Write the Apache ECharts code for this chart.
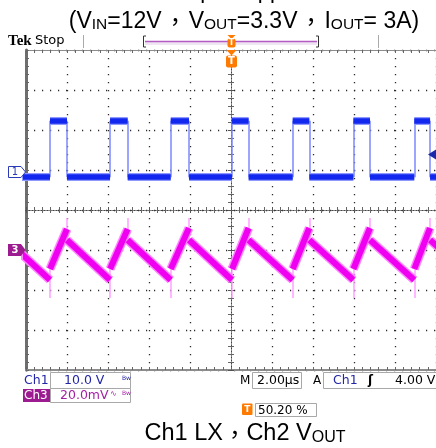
<!DOCTYPE html>
<html><head><meta charset="utf-8">
<script src="https://cdn.jsdelivr.net/npm/echarts@6/dist/echarts.min.js"></script>
<style>html,body{margin:0;padding:0;background:#fff}#c{width:436px;height:448px}</style>
</head><body><div id="c"></div>
<script>
// ---- data (time in µs, 2 µs/div; Ch1 in V, 10 V/div; Ch3 in mV, 20 mV/div) ----
const timeRange = [-10, 10];
const riseTimes = [-11.79, -8.83, -5.90, -2.94, 0.05, 3.01, 5.97, 8.94, 11.90];
const fallTimes = [-10.95, -8.00, -5.04, -2.05, 0.86, 3.82, 6.78, 9.71, 12.66];
const ch1HighV  = [12.8, 12.8, 12.8, 12.8, 12.8, 12.8, 12.8, 12.8, 12.8];
const ch1LowV   = [-1.3, -1.3, -1.3, -1.3, -1.3, -1.3, -1.3, -1.3, -1.3];
const ch3ValleyAtRise = [-15, -15, -15, -15, -15, -15, -15, -15, -15];
const ch3AfterRise    = [-9.5, -9.5, -9.5, -9.5, -9.5, -9.5, -9.5, -9.5, -9.5];
const ch3PeakAtFall   = [10.5, 10.5, 10.5, 11, 11, 11, 11, 11, 11];
const ch3AfterFall    = [5, 5, 5, 5, 5, 5, 5, 5, 5];
const ch3SpikeLow     = [-24, -24, -24, -24, -24, -24, -24, -24, -24];
const ch3SpikeHigh    = [16, 16, 16, 16, 16, 16, 16, 16, 16];
const ch1Range = [-49.5, 30.5];
const ch3Range = [-60, 100];

// ---- build segments ----
const ch1Levels = [], ch1Edges = [], ch3Ramps = [], ch3Spikes = [];
for (let i = 0; i < riseTimes.length; i++) {
  ch1Levels.push({coords: [[riseTimes[i], ch1HighV[i]], [fallTimes[i], ch1HighV[i]]]});
  if (i + 1 < riseTimes.length) ch1Levels.push({coords: [[fallTimes[i], ch1LowV[i]], [riseTimes[i + 1], ch1LowV[i]]]});
  ch1Edges.push({coords: [[riseTimes[i], ch1LowV[i]], [riseTimes[i], ch1HighV[i]]]});
  ch1Edges.push({coords: [[fallTimes[i], ch1HighV[i]], [fallTimes[i], ch1LowV[i]]]});
  ch3Ramps.push({coords: [[riseTimes[i], ch3AfterRise[i]], [fallTimes[i], ch3PeakAtFall[i]]]});
  if (i + 1 < riseTimes.length) ch3Ramps.push({coords: [[fallTimes[i], ch3AfterFall[i]], [riseTimes[i + 1], ch3ValleyAtRise[i + 1]]]});
  ch3Spikes.push({coords: [[riseTimes[i], ch3SpikeLow[i]], [riseTimes[i], ch3AfterRise[i]]]});
  ch3Spikes.push({coords: [[fallTimes[i], ch3SpikeHigh[i]], [fallTimes[i], ch3AfterFall[i]]]});
}

const GRID = {left: 26, top: 50, width: 410, height: 320};
const dotStyle = {color: '#2a2a2a', width: 1.3, type: [1.2, 6.8]};
function divX(extra) {
  return Object.assign({type: 'value', min: timeRange[0], max: timeRange[1], interval: 2,
    axisLabel: {show: false}, splitLine: {show: false},
    axisLine: {onZero: false, lineStyle: {color: '#8c8c8c', width: 1}},
    axisTick: {show: true, inside: true, length: 3, lineStyle: {color: '#666'}},
    minorTick: {show: true, splitNumber: 5, length: 3, lineStyle: {color: '#666'}}}, extra);
}
function divY(extra) {
  return Object.assign({type: 'value', min: -4, max: 4, interval: 1,
    axisLabel: {show: false}, splitLine: {show: false},
    axisLine: {onZero: false, lineStyle: {color: '#8c8c8c', width: 1}},
    axisTick: {show: true, inside: true, length: 3, lineStyle: {color: '#666'}},
    minorTick: {show: true, splitNumber: 5, length: 3, lineStyle: {color: '#666'}}}, extra);
}
const centerLine = {onZero: false, lineStyle: {color: '#444', width: 1, type: [1, 2]}};

const sans = "'Liberation Sans', Arial, sans-serif";
const cjk = "'Noto Sans CJK TC', 'Noto Sans CJK SC', sans-serif";
const scope = "'DejaVu Sans', sans-serif";
const orange = '#ff7a00';

const graphic = [
  // clipped upper heading line
  {type: 'text', x: 232, y: -8, z: 50, style: {text: 'Output Ripple', font: '22px ' + sans, fill: '#000', align: 'center', verticalAlign: 'middle'}},
  // title
  {type: 'text', x: 244, y: 5, z: 50, style: {
    text: '{n|(V}{s|IN}{n|=12V}{c|，}{n|V}{s|OUT}{n|=3.3V}{c|，}{n|I}{s|OUT}{n|= 3A)}', align: 'center', verticalAlign: 'top',
    rich: {n: {fontSize: 23, fontFamily: sans, lineHeight: 28, verticalAlign: 'bottom', fill: '#000'},
           c: {fontSize: 23, fontFamily: cjk, lineHeight: 28, verticalAlign: 'bottom', fill: '#000', padding: [0, 2, 0, 2]},
           s: {fontSize: 15.5, fontFamily: sans, lineHeight: 22.5, verticalAlign: 'bottom', fill: '#000'}}}},
  // caption
  {type: 'text', x: 245, y: 418, z: 50, style: {
    text: '{n|Ch1 LX}{c|，}{n|Ch2 V}{s|OUT}', align: 'center', verticalAlign: 'top',
    rich: {n: {fontSize: 23.5, fontFamily: sans, lineHeight: 28, verticalAlign: 'bottom', fill: '#000'},
           c: {fontSize: 23.5, fontFamily: cjk, lineHeight: 28, verticalAlign: 'bottom', fill: '#000'},
           s: {fontSize: 16, fontFamily: sans, lineHeight: 21, verticalAlign: 'bottom', fill: '#000'}}}},
  // Tek Stop
  {type: 'text', x: 8, y: 41, z: 50, style: {text: 'Tek', font: "bold 15px 'Liberation Serif', serif", fill: '#000', verticalAlign: 'middle'}},
  {type: 'text', x: 35, y: 41, z: 50, style: {text: 'Stop', font: '13px ' + scope, fill: '#000', verticalAlign: 'middle'}},
  {type: 'line', z: 50, shape: {x1: 83.5, y1: 35, x2: 83.5, y2: 48}, style: {stroke: '#aaa', lineWidth: 1}},
  {type: 'line', z: 50, shape: {x1: 378.5, y1: 35, x2: 378.5, y2: 48}, style: {stroke: '#aaa', lineWidth: 1}},
  // record bracket
  {type: 'rect', z: 50, shape: {x: 145, y: 41, width: 172, height: 4}, style: {fill: '#efe6f2'}},
  {type: 'line', z: 51, shape: {x1: 145, y1: 41.5, x2: 317, y2: 41.5}, style: {stroke: '#b25cc4', lineWidth: 1.5}},
  {type: 'polyline', z: 51, shape: {points: [[146, 36], [143.5, 36], [143.5, 47], [146, 47]]}, style: {stroke: '#333', lineWidth: 1, fill: null}},
  {type: 'polyline', z: 51, shape: {points: [[316, 36], [318.5, 36], [318.5, 47], [316, 47]]}, style: {stroke: '#333', lineWidth: 1, fill: null}},
  // trigger position marker (top)
  {type: 'polygon', z: 52, shape: {points: [[227.5, 35], [235.5, 35], [231.5, 39]]}, style: {fill: orange}},
  {type: 'rect', z: 52, shape: {x: 227.5, y: 38.5, width: 8, height: 9, r: 2}, style: {fill: orange}},
  {type: 'text', z: 53, x: 231.5, y: 43, style: {text: 'T', font: 'bold 8px ' + scope, fill: '#fff', align: 'center', verticalAlign: 'middle'}},
  {type: 'polygon', z: 52, shape: {points: [[226.5, 50], [236.5, 50], [231.5, 55.5]]}, style: {fill: orange}},
  {type: 'rect', z: 52, shape: {x: 226, y: 55.5, width: 11, height: 12, r: 2}, style: {fill: orange}},
  {type: 'text', z: 53, x: 231.5, y: 61.5, style: {text: 'T', font: 'bold 10px ' + scope, fill: '#fff', align: 'center', verticalAlign: 'middle'}},
  // channel ground markers
  {type: 'polygon', z: 52, shape: {points: [[8.5, 166.5], [21, 166.5], [25.5, 172], [21, 177.5], [8.5, 177.5]]}, style: {fill: '#fff', stroke: '#2b3bb8', lineWidth: 1}},
  {type: 'text', z: 53, x: 15, y: 172.5, style: {text: '1', font: '10px ' + scope, fill: '#2b3bb8', align: 'center', verticalAlign: 'middle'}},
  {type: 'polygon', z: 52, shape: {points: [[8, 244], [21, 244], [25.5, 250], [21, 256], [8, 256]]}, style: {fill: '#9c1b90'}},
  {type: 'text', z: 53, x: 15, y: 250.5, style: {text: '3', font: 'bold 10px ' + scope, fill: '#fff', align: 'center', verticalAlign: 'middle'}},
  // trigger level arrow (right)
  {type: 'polygon', z: 52, shape: {points: [[428, 154.5], [436, 149.5], [436, 159.5]]}, style: {fill: '#1b2aa8'}},
  // status row 1
  {type: 'text', z: 50, x: 24, y: 381, style: {text: 'Ch1', font: '12.5px ' + scope, fill: '#2326a6', verticalAlign: 'middle'}},
  {type: 'rect', z: 50, shape: {x: 50.5, y: 372.5, width: 80, height: 16}, style: {fill: '#fff', stroke: '#a8a8a8', lineWidth: 1}},
  {type: 'text', z: 51, x: 64, y: 381, style: {text: '10.0 V', font: '12.5px ' + scope, fill: '#2326a6', verticalAlign: 'middle'}},
  {type: 'text', z: 51, x: 122, y: 378, style: {text: 'Bw', font: '6px ' + scope, fill: '#2326a6', verticalAlign: 'middle'}},
  {type: 'text', z: 50, x: 240, y: 381, style: {text: 'M', font: '12px ' + scope, fill: '#000', verticalAlign: 'middle'}},
  {type: 'rect', z: 50, shape: {x: 252.5, y: 372.5, width: 49, height: 16}, style: {fill: '#fff', stroke: '#a8a8a8', lineWidth: 1}},
  {type: 'text', z: 51, x: 257, y: 381, style: {text: '2.00µs', font: '12.5px ' + scope, fill: '#000', verticalAlign: 'middle'}},
  {type: 'text', z: 50, x: 313, y: 381, style: {text: 'A', font: '12px ' + scope, fill: '#000', verticalAlign: 'middle'}},
  {type: 'rect', z: 50, shape: {x: 323.5, y: 372.5, width: 120, height: 16}, style: {fill: '#fff', stroke: '#a8a8a8', lineWidth: 1}},
  {type: 'text', z: 51, x: 333, y: 381, style: {text: 'Ch1', font: '12.5px ' + scope, fill: '#2326a6', verticalAlign: 'middle'}},
  {type: 'text', z: 51, x: 368, y: 381, style: {text: 'ʃ', font: 'bold 12px ' + scope, fill: '#000', verticalAlign: 'middle'}},
  {type: 'text', z: 51, x: 395, y: 381, style: {text: '4.00 V', font: '12.5px ' + scope, fill: '#000', verticalAlign: 'middle'}},
  // status row 2
  {type: 'rect', z: 50, shape: {x: 23, y: 389, width: 27, height: 13}, style: {fill: '#9c1b90'}},
  {type: 'text', z: 51, x: 24, y: 396, style: {text: 'Ch3', font: '12px ' + scope, fill: '#fff', verticalAlign: 'middle'}},
  {type: 'rect', z: 50, shape: {x: 50.5, y: 388.5, width: 80, height: 14}, style: {fill: '#fff', stroke: '#a8a8a8', lineWidth: 1}},
  {type: 'text', z: 51, x: 60, y: 396, style: {text: '20.0mV', font: '12.5px ' + scope, fill: '#a51fa5', verticalAlign: 'middle'}},
  {type: 'text', z: 51, x: 110, y: 394, style: {text: '∿', font: '8px ' + scope, fill: '#a51fa5', verticalAlign: 'middle'}},
  {type: 'text', z: 51, x: 122, y: 393, style: {text: 'Bw', font: '6px ' + scope, fill: '#a51fa5', verticalAlign: 'middle'}},
  // trigger position %
  {type: 'rect', z: 50, shape: {x: 242, y: 403.5, width: 10.5, height: 11.5, r: 1}, style: {fill: orange}},
  {type: 'text', z: 51, x: 247.3, y: 409.5, style: {text: 'T', font: 'bold 9px ' + scope, fill: '#fff', align: 'center', verticalAlign: 'middle'}},
  {type: 'rect', z: 50, shape: {x: 255.5, y: 403.5, width: 61, height: 13}, style: {fill: '#fff', stroke: '#a8a8a8', lineWidth: 1}},
  {type: 'text', z: 51, x: 258, y: 410.5, style: {text: '50.20 %', font: '12px ' + scope, fill: '#000', verticalAlign: 'middle'}}
];

const chart = echarts.init(document.getElementById('c'), null, {renderer: 'canvas'});
chart.setOption({
  backgroundColor: '#fff',
  animation: false,
  grid: Object.assign({}, GRID),
  xAxis: [
    divX({position: 'bottom', axisLine: {onZero: false, lineStyle: {color: '#8c8c8c', width: 2}},
      splitLine: {show: true, lineStyle: dotStyle}}),
    divX({position: 'top'}),
    divX({position: 'bottom', offset: -160, axisLine: centerLine, axisTick: {show: true, inside: true, length: 3, lineStyle: {color: '#555'}}}),
    divX({position: 'bottom', offset: -160, axisLine: centerLine, axisTick: {show: true, inside: false, length: 3, lineStyle: {color: '#555'}}})
  ],
  yAxis: [
    divY({position: 'left', axisLine: {onZero: false, lineStyle: {color: '#6e6e6e', width: 3}},
      splitLine: {show: true, lineStyle: dotStyle}}),
    divY({position: 'left', offset: -205, axisLine: centerLine, axisTick: {show: true, inside: true, length: 3, lineStyle: {color: '#555'}}}),
    divY({position: 'left', offset: -205, axisLine: centerLine, axisTick: {show: true, inside: false, length: 3, lineStyle: {color: '#555'}}}),
    {type: 'value', show: false, min: ch1Range[0], max: ch1Range[1]},
    {type: 'value', show: false, min: ch3Range[0], max: ch3Range[1]}
  ],
  series: [
    {type: 'lines', coordinateSystem: 'cartesian2d', xAxisIndex: 0, yAxisIndex: 3, silent: true, z: 3, clip: true,
      data: ch1Edges, lineStyle: {color: '#7d88ff', width: 1.5, opacity: 1}},
    {type: 'lines', coordinateSystem: 'cartesian2d', xAxisIndex: 0, yAxisIndex: 3, silent: true, z: 4, clip: true,
      data: ch1Levels, lineStyle: {color: '#8e98ff', width: 8, opacity: 1, cap: 'butt'}},
    {type: 'lines', coordinateSystem: 'cartesian2d', xAxisIndex: 0, yAxisIndex: 3, silent: true, z: 5, clip: true,
      data: ch1Levels, lineStyle: {color: '#1228ee', width: 5.5, opacity: 1, cap: 'butt'}},
    {type: 'lines', coordinateSystem: 'cartesian2d', xAxisIndex: 0, yAxisIndex: 4, silent: true, z: 3, clip: true,
      data: ch3Spikes, lineStyle: {color: '#ffa0ff', width: 1.5, opacity: 1}},
    {type: 'lines', coordinateSystem: 'cartesian2d', xAxisIndex: 0, yAxisIndex: 4, silent: true, z: 4, clip: true,
      data: ch3Ramps, lineStyle: {color: '#ff86ff', width: 9, opacity: 1, cap: 'butt'}},
    {type: 'lines', coordinateSystem: 'cartesian2d', xAxisIndex: 0, yAxisIndex: 4, silent: true, z: 5, clip: true,
      data: ch3Ramps, lineStyle: {color: '#f000f0', width: 6, opacity: 1, cap: 'butt'}}
  ],
  graphic: graphic
});
</script>
</body></html>
